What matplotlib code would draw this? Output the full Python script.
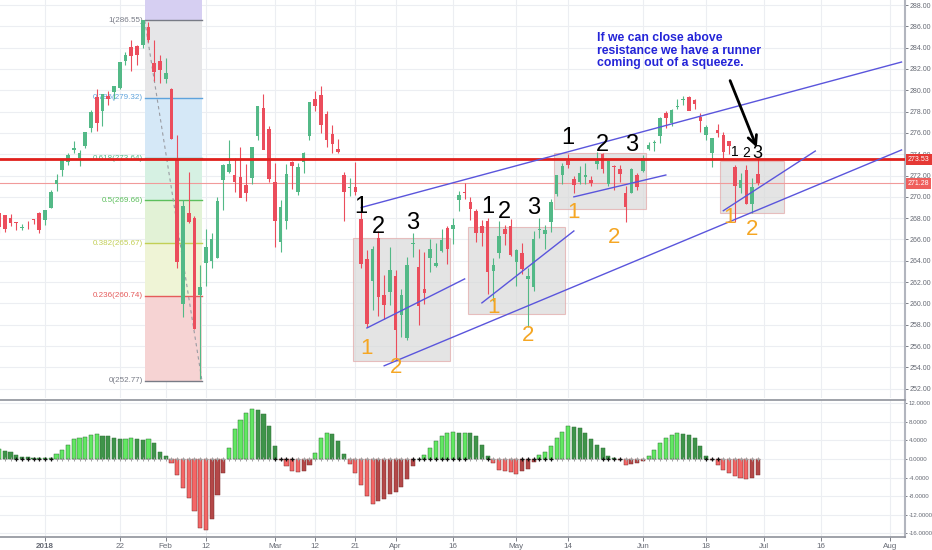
import matplotlib
matplotlib.use('Agg')
import matplotlib.pyplot as plt
import matplotlib.transforms as mtransforms
from matplotlib.patches import Rectangle
import numpy as np
import pandas as pd

plt.rcParams['font.family'] = ['Liberation Sans', 'DejaVu Sans']

# trading calendar
holidays = ['2017-12-25', '2018-01-01', '2018-01-15', '2018-02-19', '2018-03-30', '2018-05-28']
trade_days = pd.bdate_range('2017-12-19', '2018-06-29')
trade_days = trade_days[~trade_days.isin(pd.to_datetime(holidays))]
future_days = pd.bdate_range('2018-07-02', '2018-08-10')
axis_days = trade_days.append(future_days)

# daily OHLC (Dec 19 2017 .. Jun 29 2018)
opens = [
    268.48, 268.27, 268.04, 267.60, 267.05, 267.38, 267.89, 268.53,
    267.84, 268.96, 271.20, 272.51, 273.31, 274.40, 273.68, 274.75, 276.42, 279.35, 278.03,
    279.48, 279.80, 280.17, 282.74, 284.02, 284.16, 284.25, 285.93, 282.60, 282.73,
    281.07, 280.08, 273.45, 259.94, 268.50, 268.01, 260.80, 263.83, 263.97, 264.31,
    271.57, 272.32, 272.03, 271.90, 271.10, 271.79, 275.74, 278.37, 276.38,
    271.41, 265.80, 267.73, 273.30, 270.42, 273.31, 275.71, 279.20, 279.51, 277.81,
    275.88, 274.50, 272.07, 270.82, 270.90, 267.91, 264.17, 262.13, 266.17, 260.75, 261.12,
    262.55, 258.87, 256.75, 265.55, 263.42, 261.37, 264.27, 263.47, 264.92, 267.05,
    267.00, 269.67, 270.50, 269.53, 268.69, 267.26, 267.76, 263.08, 264.76, 267.00, 267.26,
    263.87, 264.76, 262.26, 261.52, 266.89, 266.50, 267.68, 270.27, 272.05, 273.34, 271.72,
    271.39, 271.82, 271.55, 273.04, 273.99, 271.16, 272.88, 272.61, 270.38, 270.34, 272.02,
    272.42, 274.53, 275.06, 275.73, 277.83, 276.90, 278.40, 279.10, 279.33, 279.09, 277.49,
    275.81, 274.11, 276.26, 275.85, 275.21, 272.80, 270.82, 272.50, 269.29, 272.12,
]
highs = [
    268.53, 268.33, 268.39, 267.64, 267.44, 267.73, 267.92, 268.55,
    268.81, 270.64, 272.16, 273.56, 274.10, 275.25, 274.42, 276.12, 278.11, 280.09, 279.64,
    279.96, 280.41, 282.69, 283.62, 284.70, 284.27, 286.63, 286.43, 284.74, 283.30,
    283.06, 280.23, 275.85, 269.70, 272.36, 268.17, 263.61, 267.01, 266.62, 270.00,
    273.04, 275.32, 273.67, 274.72, 273.05, 274.71, 278.54, 279.64, 276.61,
    273.17, 269.67, 273.10, 273.39, 273.18, 274.24, 278.87, 279.91, 280.41, 278.02,
    276.71, 275.39, 272.34, 271.73, 273.27, 268.87, 265.02, 265.43, 266.77, 262.64, 265.26,
    263.13, 261.31, 264.36, 266.64, 265.11, 264.84, 266.04, 265.64, 267.00, 267.24,
    267.99, 270.59, 271.26, 270.00, 268.87, 267.86, 268.00, 264.29, 267.74, 267.39, 267.89,
    265.10, 265.68, 263.36, 266.79, 268.02, 267.32, 269.83, 272.04, 273.16, 274.01, 271.97,
    272.85, 273.21, 271.98, 274.24, 274.15, 273.39, 273.00, 273.03, 271.00, 272.67, 272.20,
    273.94, 275.18, 275.38, 277.52, 278.06, 278.24, 279.17, 279.48, 279.48, 279.20, 277.83,
    276.72, 275.50, 276.80, 276.10, 275.24, 273.00, 272.20, 273.01, 271.75, 273.66,
]
lows = [
    266.64, 266.69, 267.30, 266.90, 266.89, 267.01, 267.45, 266.64,
    267.40, 268.96, 270.54, 271.95, 272.98, 274.08, 272.92, 274.56, 276.08, 276.18, 276.69,
    278.58, 279.14, 280.11, 282.37, 281.84, 282.41, 283.96, 284.50, 280.90, 280.68,
    280.68, 275.41, 263.31, 258.70, 267.58, 257.59, 252.92, 261.66, 263.31, 264.30,
    268.77, 272.27, 270.50, 269.94, 269.64, 271.25, 275.31, 274.61, 271.44,
    265.25, 264.83, 267.02, 270.72, 270.20, 272.22, 275.34, 278.08, 276.03, 274.67,
    274.10, 274.14, 267.72, 270.10, 270.19, 263.36, 257.83, 259.41, 258.84, 258.58, 259.84,
    254.67, 256.84, 256.60, 264.32, 258.00, 259.99, 262.98, 263.39, 264.81, 263.73,
    265.57, 268.71, 269.82, 267.83, 265.81, 265.39, 260.89, 260.24, 264.26, 265.46, 264.42,
    261.62, 262.76, 257.82, 261.15, 266.11, 265.15, 266.66, 270.11, 271.20, 272.74, 270.33,
    271.24, 271.19, 270.98, 272.66, 272.25, 270.98, 270.69, 271.36, 267.64, 270.32, 270.65,
    272.37, 274.37, 274.29, 275.04, 276.44, 276.62, 278.28, 278.60, 278.23, 278.24, 276.10,
    275.37, 272.78, 275.63, 273.61, 274.05, 267.60, 270.36, 269.35, 268.49, 271.15,
]
closes = [
    267.17, 267.03, 267.58, 267.51, 267.19, 267.32, 267.87, 266.86,
    268.77, 270.47, 271.61, 273.42, 273.92, 274.54, 274.12, 276.12, 277.92, 276.97, 279.61,
    279.14, 280.41, 282.69, 283.29, 283.18, 283.30, 286.58, 284.68, 281.76, 281.90,
    281.58, 275.45, 263.93, 269.13, 267.67, 257.63, 261.50, 265.34, 266.00, 269.59,
    273.03, 273.11, 271.40, 269.88, 270.40, 274.71, 278.54, 274.43, 271.65,
    267.70, 269.08, 272.19, 272.88, 272.78, 274.10, 278.87, 278.52, 276.72, 275.30,
    275.00, 274.20, 270.49, 270.95, 270.43, 263.67, 258.05, 265.11, 260.60, 259.83, 263.15,
    257.47, 260.77, 263.56, 265.64, 259.72, 261.00, 265.15, 263.76, 265.93, 265.15,
    267.33, 270.19, 270.39, 268.89, 266.61, 266.57, 262.98, 263.63, 266.31, 266.56, 264.51,
    264.98, 263.20, 262.62, 266.02, 266.92, 266.92, 269.50, 272.02, 272.85, 272.98, 271.10,
    272.24, 272.01, 271.33, 273.37, 272.57, 273.36, 272.76, 272.15, 269.02, 272.61, 270.94,
    273.60, 274.90, 275.10, 277.40, 277.37, 278.19, 278.56, 279.10, 278.03, 278.73, 277.13,
    276.56, 275.50, 275.97, 274.24, 274.74, 271.00, 271.60, 269.35, 270.89, 271.28,
]

# squeeze momentum histogram, one value per bar
momentum = [
    2.1, 1.8, 1.5, 0.8, 0.5, 0.35, 0.3, 0.3,
    0.3, 0.3, 1.1, 2.0, 3.1, 4.2, 4.5, 4.8, 5.1, 5.4, 5.0, 4.9, 4.5, 4.3, 4.4, 4.5, 4.2, 4.1,
    4.3, 3.4, 1.6,
    0.6, -0.9, -3.4, -6.2, -8.4, -11.3, -14.8, -15.2, -13.0, -7.7, -3.0, 2.4, 6.5, 8.3, 9.9,
    10.8, 10.6, 9.6, 7.2,
    2.8, -0.3, -1.5, -2.5, -2.7, -2.5, -1.3, 1.2, 4.6, 5.7, 5.3, 3.8, 1.0, -1.0, -3.0, -5.6,
    -8.0, -9.6, -9.0, -8.6, -7.6,
    -7.0, -6.0, -4.4, -1.5, 0.1, 0.9, 2.4, 3.8, 4.9, 5.6, 5.8, 5.6, 5.6, 5.5, 4.9, 3.1, 0.6,
    -0.9, -2.3, -2.65, -2.9,
    -3.2, -2.65, -2.1, -0.6, 0.9, 1.6, 2.7, 4.5, 5.9, 7.2, 6.9, 6.6, 5.6, 4.3, 3.1, 2.3, 0.6,
    0.2, -0.2, -1.2, -1.1, -0.9,
    -0.4, 0.6, 2.0, 3.4, 4.5, 5.2, 5.6, 5.4, 5.1, 4.5, 2.7, 0.6, -0.2, -1.2, -2.3, -3.0, -3.7,
    -4.1, -4.4, -4.1, -3.4,
]
squeeze_on = [('2017-12-22', '2018-01-03'), ('2018-03-01', '2018-03-06'),
              ('2018-04-05', '2018-04-18'), ('2018-04-24', '2018-04-24'),
              ('2018-05-02', '2018-05-09'), ('2018-05-22', '2018-05-25'),
              ('2018-06-18', '2018-06-20')]

# fib retracement drawn Jan 26 high -> Feb 9 low
fib_start, fib_end = '2018-01-26', '2018-02-09'
fib_ratios = ['0', '0.236', '0.382', '0.5', '0.618', '0.786', '1']
fib_prices = [252.77, 260.74, 265.67, 269.66, 273.64, 279.32, 286.55]
fib_line_colors = ['#787b86', '#e55b5b', '#c2cf55', '#5cbf5c', '#4fb98a', '#5fa3dc', '#787b86']
fib_fill_colors = ['#f6d3d3', '#eff4d6', '#e2f2d6', '#d6f1e3', '#d5e8f7', '#e6e6e8', '#d6cff2']

resistance = 273.53
last_price = 271.28

# squeeze boxes: start, end, low, high
boxes = [('2018-03-21', '2018-04-13', 254.6, 266.1),
         ('2018-04-19', '2018-05-11', 259.0, 267.2),
         ('2018-05-10', '2018-06-01', 268.9, 274.1),
         ('2018-06-21', '2018-07-05', 268.5, 273.4)]

# blue trend lines: (day, price) -> (day, price)
trend_lines = [(('2018-03-22', 269.0), ('2018-08-03', 282.65)),
               (('2018-03-28', 254.15), ('2018-08-03', 274.4)),
               (('2018-03-23', 257.7), ('2018-04-18', 262.3)),
               (('2018-04-23', 260.05), ('2018-05-15', 266.8)),
               (('2018-05-15', 270.0), ('2018-06-07', 272.05)),
               (('2018-06-21', 268.7), ('2018-07-13', 274.3))]

# hand written counts
count_labels = [('1', '2018-03-22', 269.05, 'k', 17), ('2', '2018-03-27', 267.2, 'k', 17),
                ('3', '2018-04-05', 267.55, 'k', 17),
                ('1', '2018-04-24', 269.05, 'k', 17), ('2', '2018-04-27', 268.6, 'k', 17),
                ('3', '2018-05-04', 269.0, 'k', 17),
                ('1', '2018-05-14', 275.5, 'k', 17), ('2', '2018-05-22', 274.9, 'k', 17),
                ('3', '2018-05-30', 274.9, 'k', 17),
                ('1', '2018-06-25', 274.2, 'k', 10), ('2', '2018-06-27', 274.1, 'k', 10),
                ('3', '2018-06-29', 274.1, 'k', 13),
                ('1', '2018-03-23', 255.8, '#f5a623', 16), ('2', '2018-04-02', 253.95, '#f5a623', 16),
                ('1', '2018-04-25', 259.6, '#f5a623', 16), ('2', '2018-05-03', 257.0, '#f5a623', 16),
                ('1', '2018-05-15', 268.5, '#f5a623', 16), ('2', '2018-05-24', 266.2, '#f5a623', 16),
                ('1', '2018-06-22', 268.1, '#f5a623', 16), ('2', '2018-06-28', 266.9, '#f5a623', 16)]

note_text = 'If we can close above\nresistance we have a runner\ncoming out of a squeeze.'
note_pos = ('2018-05-21', 285.5)
arrow_from = ('2018-06-22', 281.15)
arrow_to = ('2018-06-29', 274.4)

tick_days = ['2018-01-02', '2018-01-22', '2018-02-01', '2018-02-12', '2018-03-01', '2018-03-12',
             '2018-03-21', '2018-04-02', '2018-04-16', '2018-05-01', '2018-05-14', '2018-06-01',
             '2018-06-18', '2018-07-02', '2018-07-16', '2018-08-01']
tick_labels = ['2018', '22', 'Feb', '12', 'Mar', '12', '21', 'Apr', '16', 'May', '14', 'Jun',
               '18', 'Jul', '16', 'Aug']


def xpos(day):
    return axis_days.get_loc(pd.Timestamp(day))


UP, DOWN = '#53b987', '#eb4d5c'
GRID = '#eceef2'
LBL = '#666a74'

fig = plt.figure(figsize=(9.32, 5.5), dpi=100)
ax = fig.add_axes([0, 0.2764, 0.9710, 0.7236])
ax2 = fig.add_axes([0, 0.0236, 0.9710, 0.2491], sharex=ax)

x = np.arange(len(closes))
o, h, l, c = map(np.array, (opens, highs, lows, closes))
col = np.where(c >= o, UP, DOWN)

# fib zones
fx0, fx1 = xpos(fib_start) + 0.35, xpos(fib_end) + 0.3
fib_ext = fib_prices[0] + 1.618 * (fib_prices[-1] - fib_prices[0])
zone_edges = fib_prices + [fib_ext]
for i in range(len(zone_edges) - 1):
    ax.add_patch(Rectangle((fx0, zone_edges[i]), fx1 - fx0, zone_edges[i + 1] - zone_edges[i],
                           facecolor=fib_fill_colors[i], edgecolor='none', zorder=1))
for r, p, lc in zip(fib_ratios, fib_prices, fib_line_colors):
    ax.plot([fx0, fx1], [p, p], color=lc, lw=1, zorder=2)
    ax.text(fx0 - 0.3, p, f'{r}({p:.2f})', color=lc, fontsize=5.8, ha='right', va='center', zorder=2)
ax.plot([fx0, fx1], [fib_prices[-1], fib_prices[0]], color='#9a9ca3', lw=0.8, ls=(0, (3, 3)), zorder=2)

# boxes
for s, e, lo, hi in boxes:
    ax.add_patch(Rectangle((xpos(s) - 0.5, lo), xpos(e) - xpos(s) + 1, hi - lo,
                           facecolor='#d9d9d9', alpha=0.7, edgecolor='#e2a8a8', lw=0.8, zorder=1.5))

# horizontal levels
ax.axhline(resistance, color='#e0201c', lw=2, zorder=5)
ax.axhline(last_price, color='#f19a9a', lw=0.8, zorder=2)

# candles
ax.vlines(x, l, h, colors=col, lw=0.8, zorder=3)
ax.bar(x, np.maximum(np.abs(c - o), 0.08), bottom=np.minimum(o, c), width=0.62, color=col, zorder=4)

# trend lines
for (d0, p0), (d1, p1) in trend_lines:
    ax.plot([xpos(d0), xpos(d1)], [p0, p1], color='#5a55dc', lw=1, zorder=6)

for txt, d, p, cc, fs in count_labels:
    ax.text(xpos(d), p, txt, color=cc, fontsize=fs, ha='center', va='center', zorder=7)

ax.text(xpos(note_pos[0]), note_pos[1], note_text, color='#2424d8', fontsize=8.8, fontweight='bold',
        ha='left', va='top', linespacing=1.1, zorder=7)
ax.annotate('', xy=(xpos(arrow_to[0]), arrow_to[1]), xytext=(xpos(arrow_from[0]), arrow_from[1]),
            arrowprops=dict(arrowstyle='->', color='k', lw=2, mutation_scale=16), zorder=7)

# price axis
ax.set_xlim(0.17, 157.6)
ax.set_ylim(251.13, 288.47)
ax.set_yticks(np.arange(252, 289, 2))
ax.yaxis.set_major_formatter(matplotlib.ticker.FuncFormatter(lambda v, _: f'{v:.2f}'))
ax.yaxis.tick_right()
ax.tick_params(axis='y', labelsize=5, colors=LBL, length=2, width=0.6, pad=1.5)
ax.tick_params(axis='x', bottom=False, labelbottom=False)
ax.set_xticks([xpos(d) for d in tick_days])
ax.grid(True, color=GRID, lw=0.8)
ax.set_axisbelow(True)
for sp in ['top', 'left', 'bottom']:
    ax.spines[sp].set_visible(False)
ax.spines['right'].set_color('#b2b5be')
ax.spines['right'].set_linewidth(1.5)

tr = mtransforms.blended_transform_factory(ax.transAxes, ax.transData)
ax.text(1.003, resistance, f'{resistance:.2f}', transform=tr, color='white', fontsize=5, va='center',
        ha='left', bbox=dict(boxstyle='square,pad=0.3', fc='#e53935', ec='none'), zorder=8)
ax.text(1.003, last_price, f'{last_price:.2f}', transform=tr, color='white', fontsize=5, va='center',
        ha='left', bbox=dict(boxstyle='square,pad=0.3', fc='#ef5f5c', ec='none'), zorder=8)

# momentum panel
mom = np.array(momentum)
prev = np.concatenate([[mom[0]], mom[:-1]])
hcol = np.where(mom >= 0, np.where(mom >= prev, '#62e862', '#3f944a'),
                np.where(mom <= prev, '#f46666', '#b44848'))
ecol = np.where(mom >= 0, '#2f6f37', '#7a2e2e')
ax2.bar(x, mom, width=0.72, color=hcol, edgecolor=ecol, linewidth=0.35, zorder=3)
sq = np.zeros(len(mom), dtype=bool)
for s, e in squeeze_on:
    sq[xpos(s):xpos(e) + 1] = True
ax2.plot(x[~sq], np.zeros((~sq).sum()), ls='none', marker='+', ms=2.6, mew=0.7, color='#a0a0a0', zorder=4)
ax2.plot(x[sq], np.zeros(sq.sum()), ls='none', marker='+', ms=2.6, mew=0.9, color='#111111', zorder=4)

ax2.set_ylim(-16.8, 12.7)
ax2.set_yticks(np.arange(-16, 13, 4))
ax2.yaxis.set_major_formatter(matplotlib.ticker.FuncFormatter(lambda v, _: f'{v:.4f}'))
ax2.yaxis.tick_right()
ax2.tick_params(axis='y', labelsize=4.4, colors=LBL, length=1.5, width=0.6, pad=1)
ax2.set_xticks([xpos(d) for d in tick_days])
ax2.set_xticklabels(tick_labels)
ax2.tick_params(axis='x', labelsize=5.8, colors=LBL, length=3, width=0.6, pad=1.5)
ax2.get_xticklabels()[0].set_fontweight('bold')
ax2.grid(True, color=GRID, lw=0.8)
ax2.set_axisbelow(True)
ax2.spines['left'].set_visible(False)
for sp in ['top', 'bottom']:
    ax2.spines[sp].set_color('#8f929b')
    ax2.spines[sp].set_linewidth(1.2)
ax2.spines['right'].set_color('#b2b5be')
ax2.spines['right'].set_linewidth(1.5)

fig.savefig('out.png', dpi=100)
